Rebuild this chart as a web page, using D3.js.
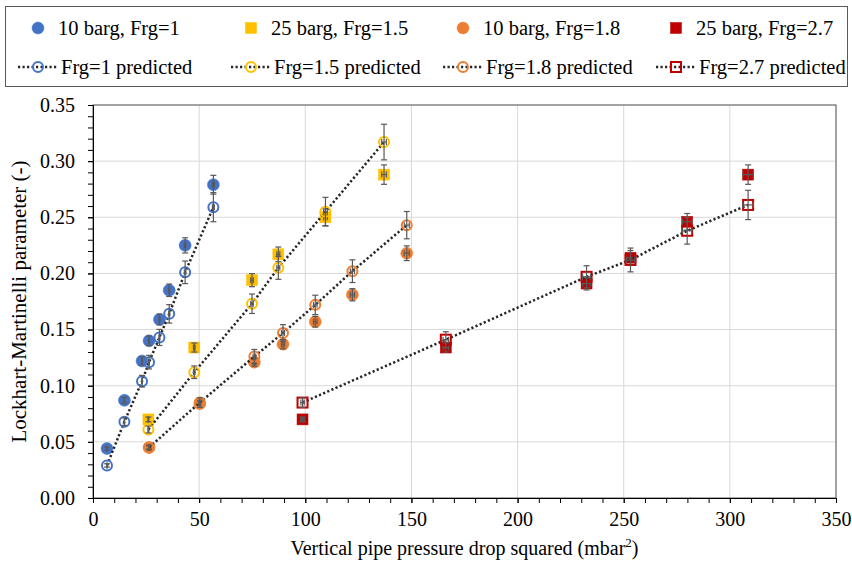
<!DOCTYPE html>
<html>
<head>
<meta charset="utf-8">
<script src="https://cdn.jsdelivr.net/npm/d3@7"></script>
<style>
  body { margin: 0; background: #fff; }
  svg text { font-family: "Liberation Serif", "DejaVu Serif", serif !important; }
</style>
</head>
<body>
<script>
// x values (mbar^2) for each pressure / Frg group
var xFrg1 = [6.6, 14.8, 23.1, 26.4, 31.3, 35.9, 43.4, 56.7];
var xFrg15 = [26.1, 47.7, 74.9, 87.3, 109.5, 137.1];
var xFrg18 = [26.4, 50.3, 76.0, 89.5, 104.7, 122.2, 147.8];
var xFrg27 = [98.7, 166.2, 232.5, 253.2, 279.9, 308.6];

// measured Lockhart-Martinelli parameter
var measFrg1 = [0.044, 0.087, 0.122, 0.140, 0.159, 0.185, 0.225, 0.279];
var measFrg15 = [0.070, 0.134, 0.194, 0.217, 0.250, 0.288];
var measFrg18 = [0.045, 0.084, 0.121, 0.137, 0.157, 0.181, 0.218];
var measFrg27 = [0.070, 0.134, 0.191, 0.214, 0.246, 0.288];

// predicted Lockhart-Martinelli parameter
var predFrg1 = [0.029, 0.068, 0.104, 0.121, 0.143, 0.164, 0.201, 0.259];
var predFrg15 = [0.061, 0.112, 0.173, 0.205, 0.255, 0.317];
var predFrg18 = [0.045, 0.085, 0.126, 0.147, 0.172, 0.202, 0.243];
var predFrg27 = [0.085, 0.141, 0.197, 0.212, 0.238, 0.261];

var measLabels = ["10 barg, Frg=1", "25 barg, Frg=1.5", "10 barg, Frg=1.8", "25 barg, Frg=2.7"];
var predLabels = ["Frg=1 predicted", "Frg=1.5 predicted", "Frg=1.8 predicted", "Frg=2.7 predicted"];
var xTicks = [0, 50, 100, 150, 200, 250, 300, 350];
var yTicks = [0, 0.05, 0.10, 0.15, 0.20, 0.25, 0.30, 0.35];

var colors = ["#4472C4", "#FFC000", "#ED7D31", "#C00000"];
var measShapes = ["circle", "square", "circle", "square"];
var predShapes = ["circle", "circle", "circle", "square"];

var xs = [xFrg1, xFrg15, xFrg18, xFrg27];
var meas = [measFrg1, measFrg15, measFrg18, measFrg27];
var pred = [predFrg1, predFrg15, predFrg18, predFrg27];

var W = 852, H = 564;
var margin = {top: 105, right: 16, bottom: 66, left: 93};
var width = W - margin.left - margin.right,
    height = H - margin.top - margin.bottom;

var xScale = d3.scaleLinear().domain([0, 350]).range([0, width]);
var yScale = d3.scaleLinear().domain([0, 0.35]).range([height, 0]);

var svg = d3.select("body").append("svg")
  .attr("width", W).attr("height", H);

var g = svg.append("g")
  .attr("transform", "translate(" + margin.left + "," + margin.top + ")");

// gridlines
g.append("g").selectAll("line").data(yTicks.slice(1)).enter().append("line")
  .attr("x1", 0).attr("x2", width)
  .attr("y1", function(d) { return yScale(d); })
  .attr("y2", function(d) { return yScale(d); })
  .attr("stroke", "#d9d9d9").attr("stroke-width", 1);
g.append("g").selectAll("line").data(xTicks.slice(1)).enter().append("line")
  .attr("y1", 0).attr("y2", height)
  .attr("x1", function(d) { return xScale(d); })
  .attr("x2", function(d) { return xScale(d); })
  .attr("stroke", "#d9d9d9").attr("stroke-width", 1);

// plot frame (top / right)
g.append("rect")
  .attr("x", 0).attr("y", 0).attr("width", width).attr("height", height)
  .attr("fill", "none").attr("stroke", "#595959").attr("stroke-width", 1);

// minor ticks
g.append("g")
  .attr("transform", "translate(0," + height + ")")
  .call(d3.axisBottom(xScale).tickValues(d3.range(0, 351, 10)).tickSize(5).tickFormat(""))
  .call(function(s) { s.select(".domain").remove(); });
g.append("g")
  .call(d3.axisLeft(yScale).tickValues(d3.range(0, 0.3501, 0.01)).tickSize(5).tickFormat(""))
  .call(function(s) { s.select(".domain").remove(); });

// axis-x
g.append("g")
  .attr("transform", "translate(0," + height + ")")
  .call(d3.axisBottom(xScale).tickValues(xTicks).tickSize(5).tickPadding(9));

// axis-y
g.append("g")
  .call(d3.axisLeft(yScale).tickValues(yTicks).tickSize(5).tickPadding(13)
    .tickFormat(d3.format(".2f")));

g.selectAll(".tick text").attr("font-size", null)
  .style("font-size", "20px").attr("fill", "#000");
g.selectAll(".domain").attr("stroke", "#000");
g.selectAll(".tick line").attr("stroke", "#000");

// axis titles
var xt = svg.append("text")
  .attr("x", margin.left + width / 2).attr("y", 555)
  .attr("text-anchor", "middle").style("font-size", "20px")
  .text("Vertical pipe pressure drop squared (mbar");
xt.append("tspan").attr("dy", -8).style("font-size", "13px").text("2");
xt.append("tspan").attr("dy", 8).text(")");

svg.append("text")
  .attr("transform", "translate(26," + (margin.top + height / 2) + ") rotate(-90)")
  .attr("text-anchor", "middle").style("font-size", "21px")
  .text("Lockhart-Martinelli parameter (-)");

function drawMarker(sel, shape, color, filled) {
  if (shape == "circle") {
    sel.append("circle").attr("r", filled ? 6 : 5)
      .attr("fill", filled ? color : "none")
      .attr("stroke", color).attr("stroke-width", filled ? 0.5 : 2);
  } else {
    var s = filled ? 11 : 10;
    sel.append("rect").attr("x", -s / 2).attr("y", -s / 2)
      .attr("width", s).attr("height", s)
      .attr("fill", filled ? color : "none")
      .attr("stroke", color).attr("stroke-width", filled ? 0.5 : 2);
  }
}

function errorBars(layer, xv, yv, yErr) {
  var eb = layer.append("g").attr("stroke", "#595959").attr("stroke-width", 1.2);
  xv.forEach(function(xval, i) {
    var cx = xScale(xval), cy = yScale(yv[i]);
    var y1 = yScale(yv[i] * (1 + yErr)), y2 = yScale(yv[i] * (1 - yErr));
    var x1 = xScale(xval * 0.992), x2 = xScale(xval * 1.008);
    eb.append("line").attr("x1", cx).attr("x2", cx).attr("y1", y1).attr("y2", y2);
    eb.append("line").attr("x1", cx - 3).attr("x2", cx + 3).attr("y1", y1).attr("y2", y1);
    eb.append("line").attr("x1", cx - 3).attr("x2", cx + 3).attr("y1", y2).attr("y2", y2);
    eb.append("line").attr("x1", x1).attr("x2", x2).attr("y1", cy).attr("y2", cy);
    eb.append("line").attr("x1", x1).attr("x2", x1).attr("y1", cy - 3).attr("y2", cy + 3);
    eb.append("line").attr("x1", x2).attr("x2", x2).attr("y1", cy - 3).attr("y2", cy + 3);
  });
}

var line = d3.line()
  .x(function(d) { return xScale(d[0]); })
  .y(function(d) { return yScale(d[1]); });

// measured series
xs.forEach(function(xv, k) {
  var layer = g.append("g");
  layer.selectAll("g.pt").data(xv).enter().append("g")
    .attr("class", "pt")
    .attr("transform", function(d, i) { return "translate(" + xScale(d) + "," + yScale(meas[k][i]) + ")"; })
    .each(function() { drawMarker(d3.select(this), measShapes[k], colors[k], true); });
  errorBars(layer, xv, meas[k], 0.03);
});

// predicted series
xs.forEach(function(xv, k) {
  var layer = g.append("g");
  var pts = xv.map(function(d, i) { return [d, pred[k][i]]; });
  layer.append("path")
    .attr("d", line(pts))
    .attr("fill", "none").attr("stroke", "#262626")
    .attr("stroke-width", 2.5).attr("stroke-dasharray", "2.2,2.3");
  layer.selectAll("g.pt").data(xv).enter().append("g")
    .attr("class", "pt")
    .attr("transform", function(d, i) { return "translate(" + xScale(d) + "," + yScale(pred[k][i]) + ")"; })
    .each(function() { drawMarker(d3.select(this), predShapes[k], colors[k], false); });
  errorBars(layer, xv, pred[k], 0.05);
});

// legend
var lg = svg.append("g");
lg.append("rect").attr("x", 5.5).attr("y", 6.5).attr("width", 842).attr("height", 80)
  .attr("fill", "#fff").attr("stroke", "#595959").attr("stroke-width", 1);
var colX = [38, 251, 463, 676];
measLabels.forEach(function(lab, k) {
  var it = lg.append("g").attr("transform", "translate(" + colX[k] + ",28)");
  drawMarker(it, measShapes[k], colors[k], true);
  it.append("text").attr("x", 20).attr("y", 7).style("font-size", "20.5px").text(lab);
});
predLabels.forEach(function(lab, k) {
  var it = lg.append("g").attr("transform", "translate(" + colX[k] + ",67)");
  it.append("line").attr("x1", -20).attr("x2", 20).attr("y1", 0).attr("y2", 0)
    .attr("stroke", "#262626").attr("stroke-width", 2.5).attr("stroke-dasharray", "2.2,2.3");
  drawMarker(it, predShapes[k], colors[k], false);
  it.append("text").attr("x", 23).attr("y", 7).style("font-size", "20.5px").text(lab);
});
</script>
</body>
</html>
